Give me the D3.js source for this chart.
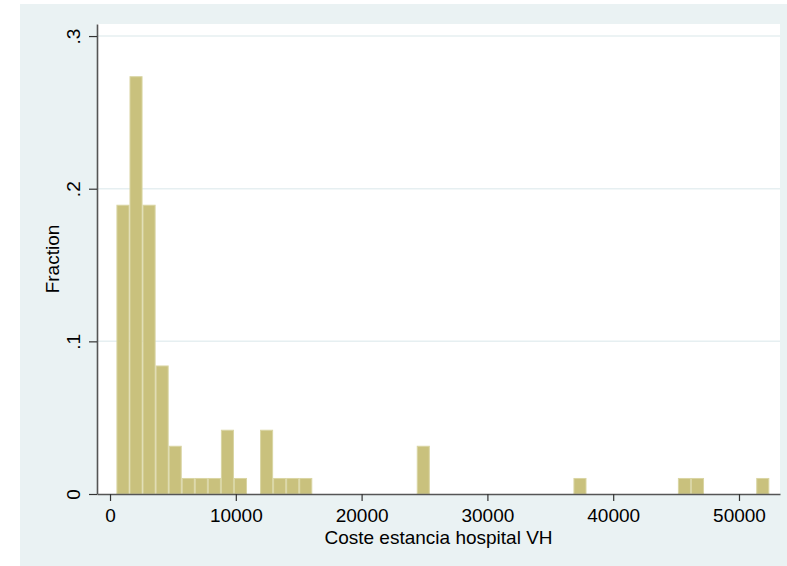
<!DOCTYPE html>
<meta charset="utf-8">
<style>
  body { margin: 0; background: #fff; }
  text { font-family: 'Liberation Sans', Arial, sans-serif; fill: #000; }
</style>
<script src="https://d3js.org/d3.v7.min.js"></script>
<body>
<div id="chart"></div>
<script>
  // histogram data (Stata style, fraction per bin)
  let binStart = 510,
      binWidth = 1038;
  let fractions = [
    0.1895, 0.2737, 0.1895, 0.0842, 0.0316, 0.0105, 0.0105, 0.0105, 0.0421, 0.0105,
    0,      0.0421, 0.0105, 0.0105, 0.0105, 0,      0,      0,      0,      0,
    0,      0,      0,      0.0316, 0,      0,      0,      0,      0,      0,
    0,      0,      0,      0,      0,      0.0105, 0,      0,      0,      0,
    0,      0,      0,      0.0105, 0.0105, 0,      0,      0,      0,      0.0105
  ];
  let xTicks = [0, 10000, 20000, 30000, 40000, 50000];
  let yTicks = [0, 0.1, 0.2, 0.3];
  let yTickLabels = ["0", ".1", ".2", ".3"];

  let width = 787, height = 566;
  let plot = {left: 97, right: 780, top: 24, bottom: 494};
  let fontSize = "19px";

  let svg = d3.select("#chart").append("svg")
    .attr("width", width)
    .attr("height", height);

  // outer grey-blue background
  svg.append("rect")
    .attr("x", 20).attr("y", 4)
    .attr("width", width - 20).attr("height", height - 4)
    .attr("fill", "#eaf2f3");

  // white plot region
  svg.append("rect")
    .attr("x", plot.left).attr("y", plot.top)
    .attr("width", plot.right - plot.left).attr("height", plot.bottom - plot.top)
    .attr("fill", "#fff");

  let x = d3.scaleLinear().domain([-1035, 53260]).range([plot.left, plot.right]);
  let y = d3.scaleLinear().domain([0, 0.3079]).range([plot.bottom, plot.top]);

  // horizontal grid lines
  svg.append("g")
    .selectAll("line")
    .data(yTicks.filter(d => d > 0))
    .join("line")
    .attr("x1", plot.left).attr("x2", plot.right)
    .attr("y1", d => y(d)).attr("y2", d => y(d))
    .attr("stroke", "#e6eff1")
    .attr("stroke-width", 1.5);

  // bars
  let bins = fractions.map((f, i) => ({x0: binStart + i * binWidth, x1: binStart + (i + 1) * binWidth, f: f}))
    .filter(d => d.f > 0);

  svg.append("g")
    .selectAll("rect")
    .data(bins)
    .join("rect")
    .attr("x", d => x(d.x0) + 0.5)
    .attr("y", d => y(d.f) + 0.5)
    .attr("width", d => x(d.x1) - x(d.x0) - 1)
    .attr("height", d => y(0) - y(d.f) - 0.5)
    .attr("fill", "#c9c17d")
    .attr("stroke", "#d9d5a3")
    .attr("stroke-width", 1);

  // x axis
  let xAxis = svg.append("g")
    .attr("transform", `translate(0,${plot.bottom})`)
    .call(d3.axisBottom(x).tickValues(xTicks).tickFormat(d3.format("d")).tickSize(7).tickSizeOuter(0).tickPadding(8));
  xAxis.select(".domain").attr("stroke", "#555").attr("stroke-width", 1.6);
  xAxis.selectAll(".tick line").attr("stroke", "#333").attr("stroke-width", 1.2);
  xAxis.selectAll("text").style("font-size", fontSize).attr("fill", "#000")
    .style("font-family", "'Liberation Sans', Arial, sans-serif");

  // y axis
  let yAxis = svg.append("g")
    .attr("transform", `translate(${plot.left},0)`)
    .call(d3.axisLeft(y).tickValues(yTicks).tickFormat((d, i) => yTickLabels[i]).tickSize(8).tickSizeOuter(0));
  yAxis.select(".domain").attr("stroke", "#555").attr("stroke-width", 1.6);
  yAxis.selectAll(".tick line").attr("stroke", "#333").attr("stroke-width", 1.2);
  yAxis.selectAll(".tick text")
    .attr("x", null).attr("dy", null)
    .attr("text-anchor", "middle")
    .attr("transform", "translate(-24,0) rotate(-90)")
    .attr("dy", "0.35em")
    .style("font-size", fontSize)
    .style("font-family", "'Liberation Sans', Arial, sans-serif")
    .attr("fill", "#000");

  // axis titles
  svg.append("text")
    .attr("x", (plot.left + plot.right) / 2)
    .attr("y", 544)
    .attr("text-anchor", "middle")
    .style("font-size", fontSize)
    .text("Coste estancia hospital VH");

  svg.append("text")
    .attr("transform", `translate(59,${(plot.top + plot.bottom) / 2}) rotate(-90)`)
    .attr("text-anchor", "middle")
    .style("font-size", fontSize)
    .text("Fraction");
</script>
</body>
